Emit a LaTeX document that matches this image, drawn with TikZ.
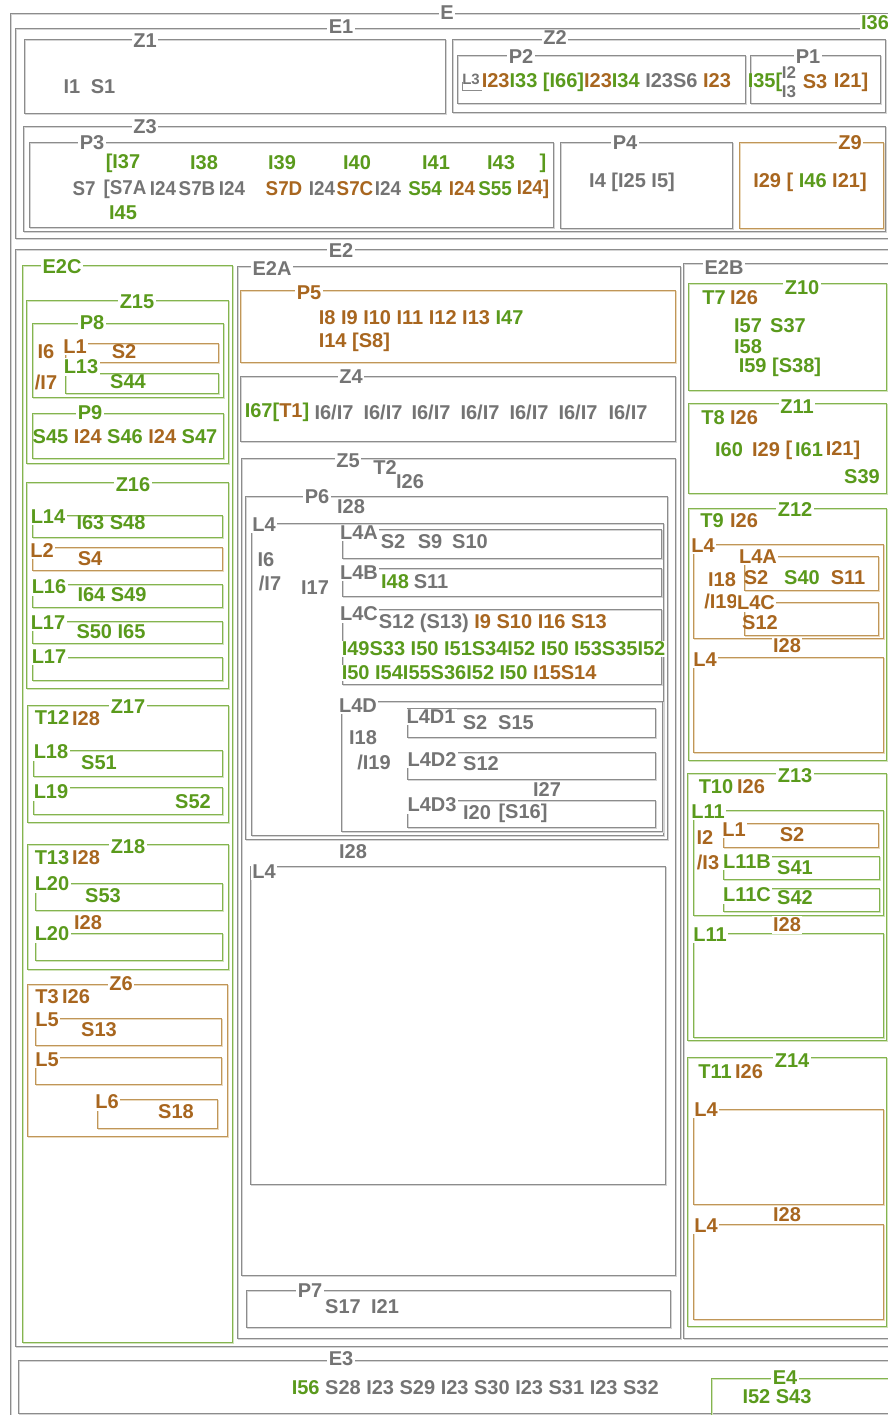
\documentclass[tikz,border=0pt]{standalone}
\usepackage{fontspec}
\newfontfamily\lblfont{Liberation Sans}
\definecolor{tgray}{HTML}{747474}
\definecolor{tgreen}{HTML}{5A9A1C}
\definecolor{tbrown}{HTML}{A8661F}
\definecolor{lgray}{HTML}{8C8C8C}
\definecolor{lgraysh}{HTML}{D4D4D4}
\definecolor{lgreen}{HTML}{84B44F}
\definecolor{lgreensh}{HTML}{D2E4BC}
\definecolor{lbrown}{HTML}{C09658}
\definecolor{lbrownsh}{HTML}{EAD9BD}
\newcommand\Cgy{\color{tgray}}
\newcommand\Cgn{\color{tgreen}}
\newcommand\Cbr{\color{tbrown}}
\newcommand\nar[1]{\scalebox{0.94}[1]{#1}}
\newcounter{nid}
\newcommand\tx[4][]{\stepcounter{nid}\node[txt,#1] (n\arabic{nid}) at (#2,#3) {#4};}
\newcommand\lb[4][]{\tx[lbl,#1]{#2}{#3}{#4}}
\newcommand\bx[5]{\draw[#1sh,shift={(1.3,1.3)}] (#2,#3) rectangle (#4,#5); \draw[#1] (#2,#3) rectangle (#4,#5);}
\begin{document}
\begin{tikzpicture}[x=1pt,y=-1pt,
  txt/.style={inner sep=0.6pt,font=\lblfont\bfseries\fontsize{20}{22}\selectfont,text=tgray},
  lbl/.style={fill=white,inner sep=1.5pt},
  gn/.style={text=tgreen},
  br/.style={text=tbrown},
  sm/.style={font=\lblfont\bfseries\fontsize{15}{16}\selectfont},
  md/.style={font=\lblfont\bfseries\fontsize{17}{18}\selectfont},
  gbox/.style={draw=lgray,line width=0.9pt},
  gboxsh/.style={draw=lgraysh,line width=0.9pt},
  nbox/.style={draw=lgreen,line width=0.9pt},
  nboxsh/.style={draw=lgreensh,line width=0.9pt},
  bbox/.style={draw=lbrown,line width=0.9pt},
  bboxsh/.style={draw=lbrownsh,line width=0.9pt}]
\useasboundingbox[fill=white] (0,0) rectangle (888,1415);
\clip (0,0) rectangle (888,1415);
% ---------------- boxes
\bx{gbox}{10}{13}{895}{1425}
\bx{gbox}{15}{28}{895}{238}
\bx{gbox}{24}{39}{445}{113}
\bx{gbox}{452}{39}{885}{112}
\bx{gbox}{457}{55}{745}{103}
\bx{gbox}{750}{55}{880}{103}
\bx{gbox}{23}{126}{885}{231}
\bx{gbox}{29}{142}{553}{227}
\bx{gbox}{560}{142}{732}{228}
\bx{bbox}{739}{142}{883}{228}
\bx{gbox}{15}{249}{895}{1346}
\bx{nbox}{22}{265}{232}{1342}
\bx{nbox}{26}{300}{228}{463}
\bx{nbox}{32}{323}{223}{397}
\bx{bbox}{65}{343}{218}{362}
\bx{nbox}{65}{373}{218}{393}
\bx{nbox}{32}{413}{223}{458}
\bx{nbox}{26}{482}{228}{688}
\bx{nbox}{32}{515}{222}{537}
\bx{bbox}{32}{547}{222}{570}
\bx{nbox}{32}{584}{222}{607}
\bx{nbox}{32}{621}{222}{643}
\bx{nbox}{32}{657}{222}{680}
\bx{nbox}{27}{705}{228}{822}
\bx{nbox}{33}{750}{222}{776}
\bx{nbox}{33}{787}{222}{814}
\bx{nbox}{27}{844}{228}{969}
\bx{nbox}{35}{883}{222}{910}
\bx{nbox}{35}{933}{222}{960}
\bx{bbox}{27}{984}{227}{1136}
\bx{bbox}{35}{1018}{221}{1045}
\bx{bbox}{35}{1057}{221}{1084}
\bx{bbox}{97}{1099}{217}{1128}
\bx{gbox}{237}{266}{680}{1338}
\bx{bbox}{240}{290}{675}{362}
\bx{gbox}{240}{376}{675}{441}
\bx{gbox}{241}{458}{675}{1275}
\bx{gbox}{245}{496}{667}{839}
\bx{gbox}{251}{523}{663}{835}
\bx{gbox}{342}{529}{661}{558}
\bx{gbox}{342}{568}{661}{596}
\bx{gbox}{342}{609}{661}{684}
\bx{gbox}{341}{701}{662}{831}
\bx{gbox}{407}{708}{655}{737}
\bx{gbox}{407}{752}{655}{779}
\bx{gbox}{407}{800}{655}{827}
\bx{gbox}{250}{866}{665}{1184}
\bx{gbox}{246}{1290}{670}{1327}
\bx{gbox}{683}{263}{895}{1338}
\bx{nbox}{688}{283}{886}{390}
\bx{nbox}{688}{403}{886}{493}
\bx{nbox}{688}{508}{886}{760}
\bx{bbox}{693}{544}{883}{638}
\bx{bbox}{744}{556}{878}{590}
\bx{bbox}{744}{602}{878}{635}
\bx{bbox}{693}{657}{883}{752}
\bx{nbox}{687}{773}{886}{1040}
\bx{nbox}{693}{810}{883}{915}
\bx{bbox}{723}{823}{878}{847}
\bx{nbox}{723}{856}{879}{879}
\bx{nbox}{723}{888}{879}{911}
\bx{nbox}{693}{933}{883}{1037}
\bx{nbox}{687}{1057}{886}{1326}
\bx{bbox}{693}{1109}{883}{1204}
\bx{bbox}{693}{1224}{883}{1319}
\bx{gbox}{18}{1360}{895}{1413}
\bx{nbox}{711}{1378}{895}{1425}
\draw[gbox] (462,82) -- (462,90) -- (482,90);
% ---------------- E / E1
\lb{447}{13}{E}
\lb{341}{27}{E1}
\lb[gn]{875}{23}{I36}
\lb{145}{41}{Z1}
\tx{72}{87}{I1}
\tx{103}{87}{S1}
\lb{555}{38}{Z2}
\lb{521}{57}{P2}
\tx[sm]{471}{79}{L3}
\tx[anchor=west]{481}{82}{\Cbr I23\Cgn I33 [I66]\Cbr I23\Cgn I34 \Cgy I23S6 \Cbr I23}
\lb{808}{57}{P1}
\tx[gn]{765}{82}{I35[}
\tx[md]{789}{73}{I2}
\tx[md]{789}{92}{I3}
\tx[br]{815}{82}{S3}
\tx[br]{851}{82}{I21]}
\lb{145}{127}{Z3}
\lb{92}{143}{P3}
\tx[gn]{123}{163}{[I37}
\tx[gn]{204}{163}{I38}
\tx[gn]{282}{163}{I39}
\tx[gn]{357}{163}{I40}
\tx[gn]{436}{163}{I41}
\tx[gn]{501}{163}{I43}
\tx[gn]{543}{163}{]}
\tx{84}{189}{\nar{S7}}
\tx{125}{189}{\nar{[S7A}}
\tx{163}{189}{\nar{I24}}
\tx{197}{189}{\nar{S7B}}
\tx{232}{189}{\nar{I24}}
\tx[br]{284}{189}{\nar{S7D}}
\tx{322}{189}{\nar{I24}}
\tx{388}{189}{\nar{I24}}
\tx[br]{355}{189}{\nar{S7C}}
\tx[gn]{425}{189}{\nar{S54}}
\tx[br]{462}{189}{\nar{I24}}
\tx[gn]{495}{189}{\nar{S55}}
\tx[br]{533}{189}{\nar{I24]}}
\tx[gn]{123}{213}{I45}
\lb{625}{143}{P4}
\tx{632}{182}{I4 [I25 I5]}
\lb[br]{850}{143}{Z9}
\tx{810}{182}{\Cbr I29 [ \Cgn I46 \Cbr I21]}
% ---------------- E2 / E2C
\lb{341}{251}{E2}
\lb[gn]{62}{267}{E2C}
\lb[gn]{137}{302}{Z15}
\lb[gn]{92}{323}{P8}
\tx[br]{46}{352}{I6}
\tx[br]{46}{382}{/I7}
\lb[br]{75}{347}{L1}
\tx[br]{124}{352}{S2}
\lb[gn]{81}{367}{L13}
\tx[gn]{128}{382}{S44}
\lb[gn]{90}{413}{P9}
\tx{125}{437}{\Cgn S45 \Cbr I24 \Cgn S46 \Cbr I24 \Cgn S47}
\lb[gn]{133}{485}{Z16}
\lb[gn]{48}{517}{L14}
\tx[gn]{111}{523}{I63 S48}
\lb[br]{42}{551}{L2}
\tx[br]{90}{559}{S4}
\lb[gn]{49}{587}{L16}
\tx[gn]{112}{595}{I64 S49}
\lb[gn]{48}{623}{L17}
\tx[gn]{111}{632}{S50 I65}
\lb[gn]{49}{657}{L17}
\lb[gn]{128}{707}{Z17}
\tx[gn]{52}{718}{T12}
\tx[br]{86}{719}{I28}
\lb[gn]{51}{752}{L18}
\tx[gn]{99}{763}{S51}
\lb[gn]{51}{792}{L19}
\tx[gn]{193}{802}{S52}
\lb[gn]{128}{847}{Z18}
\tx[gn]{52}{858}{T13}
\tx[br]{86}{858}{I28}
\lb[gn]{52}{884}{L20}
\tx[gn]{103}{896}{S53}
\lb[br]{88}{923}{I28}
\lb[gn]{52}{934}{L20}
\lb[br]{121}{984}{Z6}
\tx[br]{47}{997}{T3}
\tx[br]{76}{997}{I26}
\lb[br]{47}{1020}{L5}
\tx[br]{99}{1030}{S13}
\lb[br]{47}{1060}{L5}
\lb[br]{107}{1102}{L6}
\tx[br]{176}{1112}{S18}
% ---------------- E2A
\lb{272}{269}{E2A}
\lb[br]{309}{293}{P5}
\tx[anchor=west]{318}{318}{\Cbr I8 I9 I10 I11 I12 I13 \Cgn I47}
\tx[anchor=west,br]{318}{342}{I14 [S8]}
\lb{351}{377}{Z4}
\tx[anchor=west]{244}{412}{\Cgn I67[\Cbr T1\Cgn ]}
\foreach \xx in {334,383,431,480,529,578,628}{\tx{\xx}{412}{I6/I7}}
\lb{348}{461}{Z5}
\lb{385}{468}{T2}
\tx{410}{482}{I26}
\lb{317}{497}{P6}
\tx{351}{507}{I28}
\lb{264}{525}{L4}
\tx{266}{560}{I6}
\tx{270}{583}{/I7}
\tx{315}{588}{I17}
\lb{359}{533}{L4A}
\tx{393}{542}{S2}
\tx{430}{542}{S9}
\tx{470}{542}{S10}
\lb{359}{573}{L4B}
\tx[gn]{395}{582}{I48}
\tx{431}{582}{S11}
\lb{359}{614}{L4C}
\tx[anchor=west]{378}{623}{S12 (S13) \Cbr I9 S10 I16 S13}
\tx[anchor=west,gn,fill=white]{341}{649}{I49S33 I50 I51S34I52 I50 I53S35I52}
\tx[anchor=west,gn,fill=white]{341}{673}{I50 I54I55S36I52 I50 \Cbr I15S14}
\lb{358}{706}{L4D}
\tx{363}{738}{I18}
\tx{374}{762}{/I19}
\lb{431}{717}{L4D1}
\tx{475}{723}{S2}
\tx{516}{723}{S15}
\lb{432}{760}{L4D2}
\tx{481}{764}{S12}
\lb{432}{805}{L4D3}
\tx{477}{813}{I20}
\tx{523}{813}{[S16]}
\tx{547}{790}{I27}
\tx{353}{852}{I28}
\lb{264}{872}{L4}
\lb{310}{1291}{P7}
\tx{343}{1307}{S17}
\tx{385}{1307}{I21}
% ---------------- E2B
\lb{724}{268}{E2B}
\lb[gn]{802}{288}{Z10}
\tx[gn]{714}{298}{T7}
\tx[br]{744}{298}{I26}
\tx[gn]{748}{326}{I57}
\tx[gn]{788}{326}{S37}
\tx[gn]{748}{347}{I58}
\tx[gn,anchor=west]{738}{367}{I59 [S38]}
\lb[gn]{797}{407}{Z11}
\tx[gn]{713}{418}{T8}
\tx[br]{744}{418}{I26}
\tx[gn]{729}{450}{I60}
\tx[br]{766}{450}{I29}
\tx[br]{789}{450}{[}
\tx[gn]{809}{450}{I61}
\tx[br]{843}{450}{I21]}
\tx[gn]{862}{477}{S39}
\lb[gn]{795}{510}{Z12}
\tx[gn]{712}{521}{T9}
\tx[br]{744}{521}{I26}
\lb[br]{703}{546}{L4}
\tx[br]{722}{580}{I18}
\tx[br]{721}{601}{/I19}
\lb[br]{758}{557}{L4A}
\tx[br]{756}{578}{S2}
\tx[gn]{802}{578}{S40}
\tx[br]{848}{578}{S11}
\lb[br]{756}{603}{L4C}
\tx[br]{760}{623}{S12}
\lb[br]{787}{646}{I28}
\lb[br]{705}{660}{L4}
\lb[gn]{795}{776}{Z13}
\tx[gn]{716}{787}{T10}
\tx[br]{751}{787}{I26}
\lb[gn]{708}{812}{L11}
\tx[br]{705}{838}{I2}
\tx[br]{708}{862}{/I3}
\lb[br]{734}{830}{L1}
\tx[br]{792}{835}{S2}
\lb[gn]{747}{862}{L11B}
\tx[gn]{795}{868}{S41}
\lb[gn]{747}{895}{L11C}
\tx[gn]{795}{898}{S42}
\lb[br]{787}{925}{I28}
\lb[gn]{710}{935}{L11}
\lb[gn]{792}{1061}{Z14}
\tx[gn]{715}{1072}{T11}
\tx[br]{749}{1072}{I26}
\lb[br]{706}{1110}{L4}
\lb[br]{787}{1215}{I28}
\lb[br]{706}{1226}{L4}
% ---------------- E3 / E4
\lb{341}{1359}{E3}
\tx[anchor=west]{291}{1388}{\Cgn I56 \Cgy S28 I23 S29 I23 S30 I23 S31 I23 S32}
\lb[gn]{785}{1378}{E4}
\tx[gn]{777}{1397}{I52 S43}
\end{tikzpicture}
\end{document}
